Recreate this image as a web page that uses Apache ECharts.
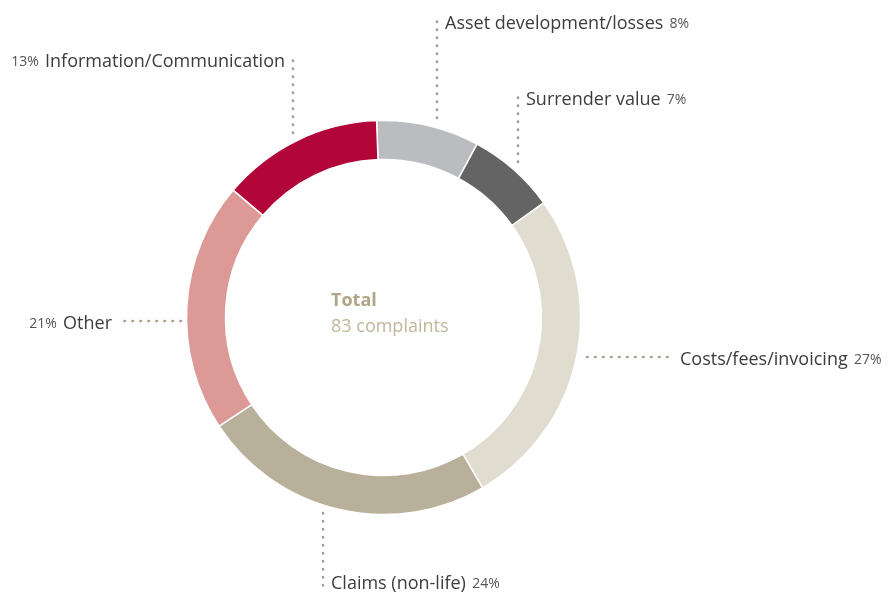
<!DOCTYPE html>
<html>
<head>
<meta charset="utf-8">
<script src="https://cdn.jsdelivr.net/npm/echarts@6/dist/echarts.min.js"></script>
<style>
  html, body { margin: 0; padding: 0; background: #fff; }
  #chart { width: 892px; height: 593px; }
</style>
</head>
<body>
<div id="chart"></div>
<script>
// complaint counts per category (total 83), clockwise from top
const categories = ['Asset development/losses', 'Surrender value', 'Costs/fees/invoicing', 'Claims (non-life)', 'Other', 'Information/Communication'];
const counts = [7, 6, 22, 20, 17, 11];
const percentLabels = ['8%', '7%', '27%', '24%', '21%', '13%'];
const colors = ['#bbbcc0', '#646464', '#e0dccf', '#b8b09a', '#dd9996', '#b20538'];

// where each label + dotted leader goes: leader from (x1,y1) to (x2,y2), text anchored at (tx,ty)
const labelPlacement = [
    { line: [437, 118, 437, 16], tx: 445, ty: 24, align: 'left' },
    { line: [518, 162, 518, 90], tx: 526, ty: 100, align: 'left' },
    { line: [587, 357, 672, 357], tx: 680, ty: 360, align: 'left' },
    { line: [323, 513, 323, 589], tx: 331, ty: 584, align: 'left' },
    { line: [181, 321, 118, 321], tx: 112, ty: 324, align: 'right' },
    { line: [293, 133, 293, 53], tx: 285, ty: 62, align: 'right' }
];

const font = 'Open Sans';
const chart = echarts.init(document.getElementById('chart'));

const option = {
    animation: false,
    title: {
        text: 'Total',
        subtext: '83 complaints',
        left: 331,
        top: 292,
        padding: 0,
        itemGap: 8,
        textStyle: { fontFamily: font, fontSize: 18, fontWeight: 'bold', color: '#b0a584' },
        subtextStyle: { fontFamily: font, fontSize: 18, color: '#bfb69b' }
    },
    series: [
        {
            type: 'pie',
            center: [383.5, 317.5],
            radius: [158, 197],
            startAngle: 92,
            clockwise: true,
            avoidLabelOverlap: false,
            itemStyle: { borderColor: '#fff', borderWidth: 1.5 },
            data: categories.map((name, i) => ({
                name: name,
                value: counts[i],
                itemStyle: { color: colors[i] }
            })),
            label: {
                show: true,
                position: 'outside',
                fontFamily: font,
                formatter: p => {
                    const i = p.dataIndex;
                    if (labelPlacement[i].align === 'right') {
                        return '{p|' + percentLabels[i] + '}  {n|' + p.name + '}';
                    }
                    return '{n|' + p.name + '}  {p|' + percentLabels[i] + '}';
                },
                rich: {
                    n: { fontFamily: font, fontSize: 18, color: '#3c3c3c' },
                    p: { fontFamily: font, fontSize: 14, color: '#555' }
                }
            },
            labelLine: {
                show: true,
                smooth: false,
                lineStyle: { color: '#a89f86', width: 2.6, type: [0.5, 7.5], cap: 'round' }
            },
            labelLayout: params => {
                const pl = labelPlacement[params.dataIndex];
                return {
                    x: pl.tx,
                    y: pl.ty,
                    align: pl.align,
                    verticalAlign: 'middle',
                    labelLinePoints: [[pl.line[0], pl.line[1]], [pl.line[2], pl.line[3]], [pl.line[2], pl.line[3]]]
                };
            },
            emphasis: { disabled: true }
        }
    ]
};

chart.setOption(option);
window.addEventListener('resize', chart.resize);
</script>
</body>
</html>
